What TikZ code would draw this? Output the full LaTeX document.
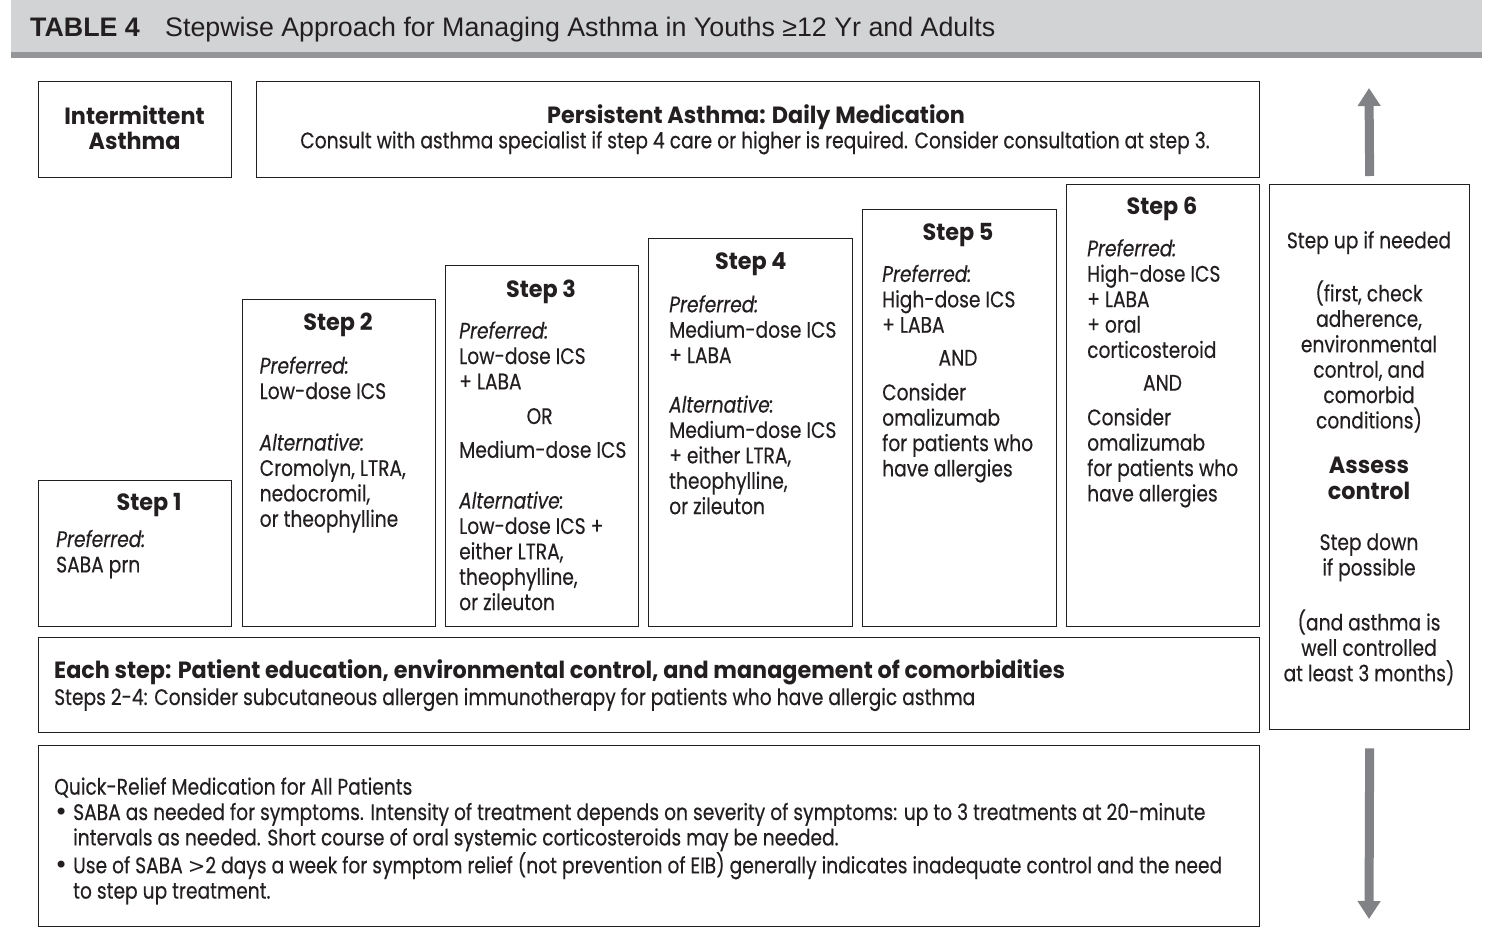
\documentclass[tikz,border=0pt]{standalone}
\usepackage{fontspec}
\setmainfont{Poppins}[FakeStretch=0.83,FakeBold=0.35]
\newfontfamily\headfont{Poppins}[FakeStretch=0.95]
\newfontfamily\hdrfont{Liberation Sans}
\newfontfamily\symfont{DejaVu Sans}
\usetikzlibrary{arrows.meta}

\definecolor{ink}{HTML}{231F20}
\definecolor{bandlight}{HTML}{D1D3D4}
\definecolor{banddark}{HTML}{939598}
\definecolor{arrowgray}{HTML}{808285}

\newcommand\bodysize{\fontsize{22.5}{25.4}\selectfont}
\newcommand\boldsize{\headfont\fontsize{23.5}{25.4}\selectfont\bfseries}
\newcommand\hdrsize{\fontsize{26.8}{30}\selectfont}
\newcommand\qrbullet{\makebox[19pt][l]{\symfont\fontsize{24}{25.4}\selectfont •}}
\newcommand\qrhang{\hspace*{19pt}}

\tikzset{
  box/.style={draw=ink, line width=1.3pt, inner sep=0pt, anchor=north west},
  % multi-line text blocks, placed by the baseline of their first line
  txt/.style={inner sep=0pt, anchor=north west, yshift=17.78pt, align=left,
    font=\bodysize, text=ink, execute at begin node=\strut},
  ctxt/.style={inner sep=0pt, anchor=north, yshift=17.78pt, align=center,
    font=\bodysize, text=ink, execute at begin node=\strut},
  oneline/.style={inner sep=0pt, anchor=base, font=\bodysize, text=ink},
  steptitle/.style={oneline, font=\boldsize},
  bigarrow/.style={draw=arrowgray, line width=9pt,
    -{Triangle[width=22pt,length=18pt,fill=arrowgray]}},
}

\begin{document}
\begin{tikzpicture}[x=1pt,y=-1pt]
\useasboundingbox (0,0) rectangle (1491,938);

% title band
\fill[bandlight] (11,0) rectangle (1482,52);
\fill[banddark] (11,52) rectangle (1482,58);
\node[anchor=base west, inner sep=0pt, text=ink, font=\hdrfont\bfseries\hdrsize] (tabno) at (30,36) {TABLE 4};
\node[anchor=base west, inner sep=0pt, text=ink, font=\hdrfont\hdrsize] (tabtitle) at (165,36) {Stepwise Approach for Managing Asthma in Youths ≥12 Yr and Adults};

% frames
\node[box, minimum width=193pt, minimum height=96pt] (intbox) at (38,81) {};
\node[box, minimum width=1003pt, minimum height=96pt] (persbox) at (256,81) {};
\node[box, minimum width=193pt, minimum height=146pt] (s1box) at (38,480) {};
\node[box, minimum width=193pt, minimum height=327pt] (s2box) at (242,299) {};
\node[box, minimum width=193pt, minimum height=361pt] (s3box) at (445,265) {};
\node[box, minimum width=204pt, minimum height=388pt] (s4box) at (648,238) {};
\node[box, minimum width=194pt, minimum height=417pt] (s5box) at (862,209) {};
\node[box, minimum width=193pt, minimum height=442pt] (s6box) at (1066,184) {};
\node[box, minimum width=200pt, minimum height=545pt] (ctrlbox) at (1269,184) {};
\node[box, minimum width=1221pt, minimum height=95pt] (eachbox) at (38,637) {};
\node[box, minimum width=1221pt, minimum height=181pt] (qrbox) at (38,745) {};

% step up / step down arrows
\coordinate (uptip) at (1369,88);
\coordinate (downtip) at (1369,919);
\draw[bigarrow] ([yshift=8pt]ctrlbox.north) -- (uptip);
\draw[bigarrow] ([yshift=-18pt]ctrlbox.south) -- (downtip);

% header boxes
\node[ctxt, font=\boldsize] (intlbl) at (134.5,123) {Intermittent\\Asthma};
\node[oneline, font=\boldsize] (perstitle) at (756,123) {Persistent Asthma: Daily Medication};
\node[oneline] (persnote) at (755,148.3) {Consult with asthma specialist if step 4 care or higher is required. Consider consultation at step 3.};

% step 1
\node[steptitle] (s1t) at (149,510.7) {Step 1};
\node[txt] (s1pref) at (56,547.4) {\textit{Preferred:}\\SABA prn};

% step 2
\node[steptitle] (s2t) at (338,330) {Step 2};
\node[txt] (s2pref) at (259.5,374) {\textit{Preferred:}\\Low-dose ICS};
\node[txt] (s2alt) at (259.5,451) {\textit{Alternative:}\\Cromolyn, LTRA,\\nedocromil,\\or theophylline};

% step 3
\node[steptitle] (s3t) at (541,297) {Step 3};
\node[txt] (s3pref) at (459,339) {\textit{Preferred:}\\Low-dose ICS\\+ LABA};
\node[oneline] (s3or) at (539.6,424) {OR};
\node[txt] (s3med) at (459,457.6) {Medium-dose ICS};
\node[txt] (s3alt) at (459,509) {\textit{Alternative:}\\Low-dose ICS +\\either LTRA,\\theophylline,\\or zileuton};

% step 4
\node[steptitle] (s4t) at (750.8,269.3) {Step 4};
\node[txt] (s4pref) at (669,312.7) {\textit{Preferred:}\\Medium-dose ICS\\+ LABA};
\node[txt] (s4alt) at (669,413) {\textit{Alternative:}\\Medium-dose ICS\\+ either LTRA,\\theophylline,\\or zileuton};

% step 5
\node[steptitle] (s5t) at (958,240) {Step 5};
\node[txt] (s5pref) at (882,282.3) {\textit{Preferred:}\\High-dose ICS\\+ LABA};
\node[oneline] (s5and) at (958,365.7) {AND};
\node[txt] (s5cons) at (882,400.7) {Consider\\omalizumab\\for patients who\\have allergies};

% step 6
\node[steptitle] (s6t) at (1162,214.7) {Step 6};
\node[txt] (s6pref) at (1087,256.7) {\textit{Preferred:}\\High-dose ICS\\+ LABA\\+ oral\\corticosteroid};
\node[oneline] (s6and) at (1162.5,390.7) {AND};
\node[txt] (s6cons) at (1087,425.7) {Consider\\omalizumab\\for patients who\\have allergies};

% step up / assess / step down column
\node[oneline] (ctrlup) at (1369,248.3) {Step up if needed};
\node[ctxt] (ctrlcheck) at (1369,298) {(first, check\\adherence,\\environmental\\control, and\\comorbid\\conditions)};
\node[ctxt, font=\boldsize] (ctrlassess) at (1369,475) {Assess\\control};
\node[ctxt] (ctrldown) at (1369,551) {Step down\\if possible};
\node[ctxt] (ctrlwell) at (1369,627) {(and asthma is\\well controlled\\at least 3 months)};

% every step
\node[anchor=base west, inner sep=0pt, text=ink, font=\boldsize] (eachhead) at (54,678) {Each step: Patient education, environmental control, and management of comorbidities};
\node[anchor=base west, inner sep=0pt, text=ink, font=\bodysize] (eachnote) at (54,705) {Steps 2-4: Consider subcutaneous allergen immunotherapy for patients who have allergic asthma};

% quick relief
\node[txt] (qrtext) at (54,795) {Quick-Relief Medication for All Patients\\
\qrbullet SABA as needed for symptoms. Intensity of treatment depends on severity of symptoms: up to 3 treatments at 20-minute\\
\qrhang intervals as needed. Short course of oral systemic corticosteroids may be needed.\\
\qrbullet Use of SABA {\symfont\fontsize{21}{25.4}\selectfont >}2 days a week for symptom relief (not prevention of EIB) generally indicates inadequate control and the need\\
\qrhang to step up treatment.};
\end{tikzpicture}
\end{document}
